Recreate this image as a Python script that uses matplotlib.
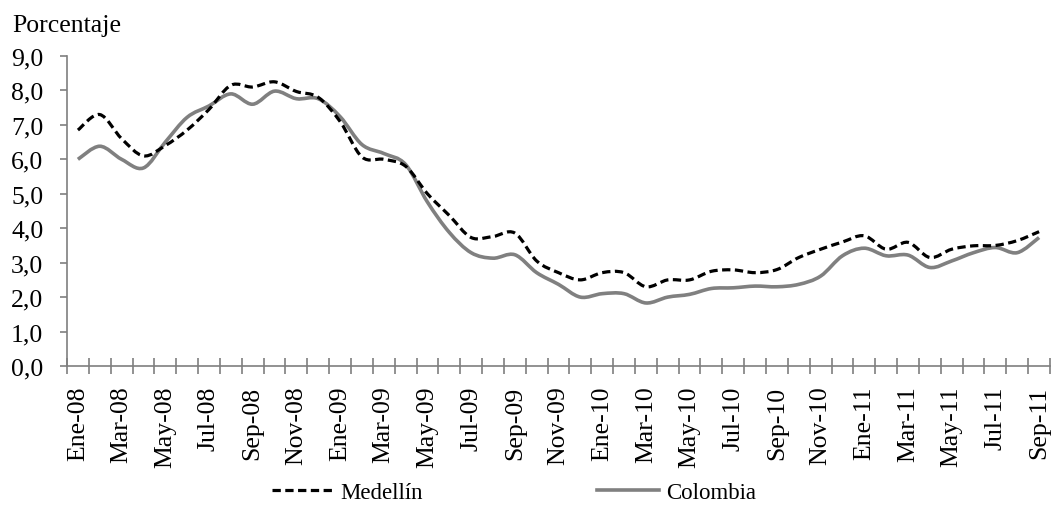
import matplotlib
matplotlib.use("Agg")
import matplotlib.pyplot as plt
from matplotlib.path import Path
from matplotlib.patches import PathPatch
from matplotlib.lines import Line2D
import numpy as np

months = ["Ene", "Feb", "Mar", "Abr", "May", "Jun", "Jul", "Ago", "Sep", "Oct", "Nov", "Dic"]
categories = [f"{m}-{y:02d}" for y in (8, 9, 10, 11) for m in months][:45]

medellin = [6.85, 7.3, 6.6, 6.1, 6.4, 6.85, 7.45, 8.15, 8.1, 8.25, 7.97, 7.8,
            7.1, 6.07, 6.0, 5.8, 5.0, 4.37, 3.73, 3.76, 3.86, 3.05, 2.71, 2.5,
            2.71, 2.71, 2.3, 2.5, 2.5, 2.75, 2.79, 2.71, 2.8, 3.15, 3.39, 3.6,
            3.78, 3.39, 3.59, 3.15, 3.39, 3.49, 3.5, 3.64, 3.9]
colombia = [6.0, 6.38, 6.0, 5.75, 6.5, 7.22, 7.55, 7.9, 7.6, 7.98, 7.76, 7.76,
            7.24, 6.43, 6.17, 5.85, 4.76, 3.88, 3.29, 3.13, 3.23, 2.71, 2.37, 2.0,
            2.1, 2.1, 1.83, 2.0, 2.08, 2.25, 2.27, 2.32, 2.3, 2.37, 2.61, 3.2,
            3.42, 3.2, 3.22, 2.86, 3.05, 3.29, 3.44, 3.29, 3.73]
series_names = ["Medellín", "Colombia"]
yticks = [0, 1, 2, 3, 4, 5, 6, 7, 8, 9]

FONT = ["Liberation Serif", "DejaVu Serif"]
plt.rcParams["font.family"] = FONT


def smooth_path(x, y):
    pts = np.column_stack([x, y]).astype(float)
    n = len(pts)
    verts = [pts[0]]
    codes = [Path.MOVETO]
    for i in range(n - 1):
        p0 = pts[i - 1] if i > 0 else pts[i]
        p1 = pts[i]
        p2 = pts[i + 1]
        p3 = pts[i + 2] if i + 2 < n else pts[i + 1]
        c1 = p1 + (p2 - p0) / 6.0
        c2 = p2 - (p3 - p1) / 6.0
        verts += [c1, c2, p2]
        codes += [Path.CURVE4] * 3
    return Path(verts, codes)


fig = plt.figure(figsize=(10.55, 5.10), dpi=100)
ax = fig.add_axes([67 / 1055, 1 - 367 / 510, (1050 - 67) / 1055, (367 - 57) / 510])

x = np.arange(len(categories))
med_style = dict(color="black", linewidth=2.3, linestyle=(0, (2.6, 1.4)))
col_style = dict(color="#808080", linewidth=2.6, linestyle="-")

ax.add_patch(PathPatch(smooth_path(x, colombia), fill=False, capstyle="butt", **col_style))
ax.add_patch(PathPatch(smooth_path(x, medellin), fill=False, capstyle="butt", **med_style))

ax.set_xlim(-0.5, len(categories) - 0.5)
ax.set_ylim(0, 9)

for s in ["top", "right"]:
    ax.spines[s].set_visible(False)
for s in ["left", "bottom"]:
    ax.spines[s].set_color("#7f7f7f")
    ax.spines[s].set_linewidth(1.2)

ax.set_yticks(yticks)
ax.set_yticklabels([f"{v:.1f}".replace(".", ",") for v in yticks], fontsize=18.5)
ax.tick_params(axis="y", direction="out", length=5, width=1.2, color="#7f7f7f", pad=12)

ax.set_xticks(x[::2])
ax.set_xticklabels(categories[::2], rotation=90, fontsize=18.5)
ax.set_xticks(np.arange(len(categories) + 1) - 0.5, minor=True)
ax.tick_params(axis="x", which="major", length=0, pad=14)
ax.tick_params(axis="x", which="minor", direction="inout", length=12, width=1.2, color="#7f7f7f")

fig.text(12 / 1055, 1 - 32 / 510, "Porcentaje", fontsize=18.5, va="baseline", ha="left")

handles = [Line2D([], [], **med_style), Line2D([], [], **col_style)]
fig.legend(handles, series_names, loc="center", bbox_to_anchor=(0.487, 0.033), ncol=2,
           frameon=False, fontsize=16.5, handlelength=2.7, handletextpad=0.3,
           columnspacing=7.6)

fig.savefig("out.png", dpi=100)
